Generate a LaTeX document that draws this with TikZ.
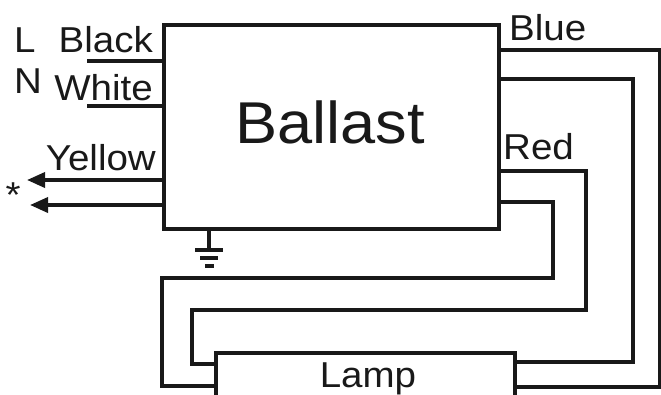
\documentclass[tikz,border=0pt]{standalone}
\usepackage{fontspec}
\setmainfont[FakeStretch=1.07]{Liberation Sans}
\usetikzlibrary{arrows.meta}
\begin{document}
\begin{tikzpicture}[x=1pt,y=-1pt,
  wire/.style={line width=3.6pt, line join=miter, color=black!90},
  box/.style={draw, line width=3.2pt, color=black!90, inner sep=0pt, outer sep=0pt},
  lbl/.style={font=\fontsize{36}{40}\selectfont, inner sep=0pt, text=black!90},
  big/.style={font=\fontsize{59}{66}\selectfont, inner sep=0pt, text=black!90},
  arr/.style={wire, -{Triangle[length=18pt,width=15pt]}}]
\useasboundingbox (0,0) rectangle (661,394);
\clip (0,0) rectangle (661,394);
% ballast
\node[box, minimum width=335pt, minimum height=204pt] (ballast) at (331.5,127) {};
\node[big, anchor=base] (btext) at (330,143) {Ballast};
% lamp
\node[box, minimum width=299pt, minimum height=80pt] (lamp) at (365.5,393) {};
\node[lbl, anchor=base] (ltext) at (368,387) {Lamp};
% left labels
\node[lbl, anchor=base west] (L) at (14,52) {L};
\node[lbl, anchor=base west] (N) at (14,93) {N};
\node[lbl, anchor=base east] (black) at (153,52) {Black};
\node[lbl, anchor=base east] (white) at (153,100) {White};
\node[lbl, anchor=base east] (yellow) at (156,170) {Yellow};
\node[lbl, anchor=center] (star) at (13,195) {*};
\node[lbl, anchor=base west] (blue) at (509,40) {Blue};
\node[lbl, anchor=base west] (red) at (503,159) {Red};
% left wires
\coordinate (bk) at (87,61);
\coordinate (wh) at (87,106);
\coordinate (y1) at (27,180);
\coordinate (y2) at (30,205);
\draw[wire] (ballast.west |- bk) -- (bk);
\draw[wire] (ballast.west |- wh) -- (wh);
\draw[arr] (ballast.west |- y1) -- (y1);
\draw[arr] (ballast.west |- y2) -- (y2);
% right wires
\coordinate (c1) at (660,50);
\coordinate (c1b) at (660,387);
\coordinate (c2) at (633,79);
\coordinate (c2b) at (633,362);
\coordinate (c3) at (586,171);
\coordinate (c3b) at (192,310);
\coordinate (c3c) at (192,364);
\coordinate (c4) at (553,202);
\coordinate (c4b) at (162,278);
\coordinate (c4c) at (162,386);
\draw[wire] (ballast.east |- c1) -- (c1) -- (c1b) -- (lamp.east |- c1b);
\draw[wire] (ballast.east |- c2) -- (c2) -- (c2b) -- (lamp.east |- c2b);
\draw[wire] (ballast.east |- c3) -- (c3) |- (c3b) -- (c3c) -- (lamp.west |- c3c);
\draw[wire] (ballast.east |- c4) -- (c4) |- (c4b) -- (c4c) -- (lamp.west |- c4c);
% ground
\coordinate (g0) at (209,250);
\draw[wire] (ballast.south -| g0) -- (g0);
\draw[wire] (195,250) -- (223,250);
\draw[wire] (200,258) -- (218,258);
\draw[wire] (205,266) -- (214,266);
\end{tikzpicture}
\end{document}
